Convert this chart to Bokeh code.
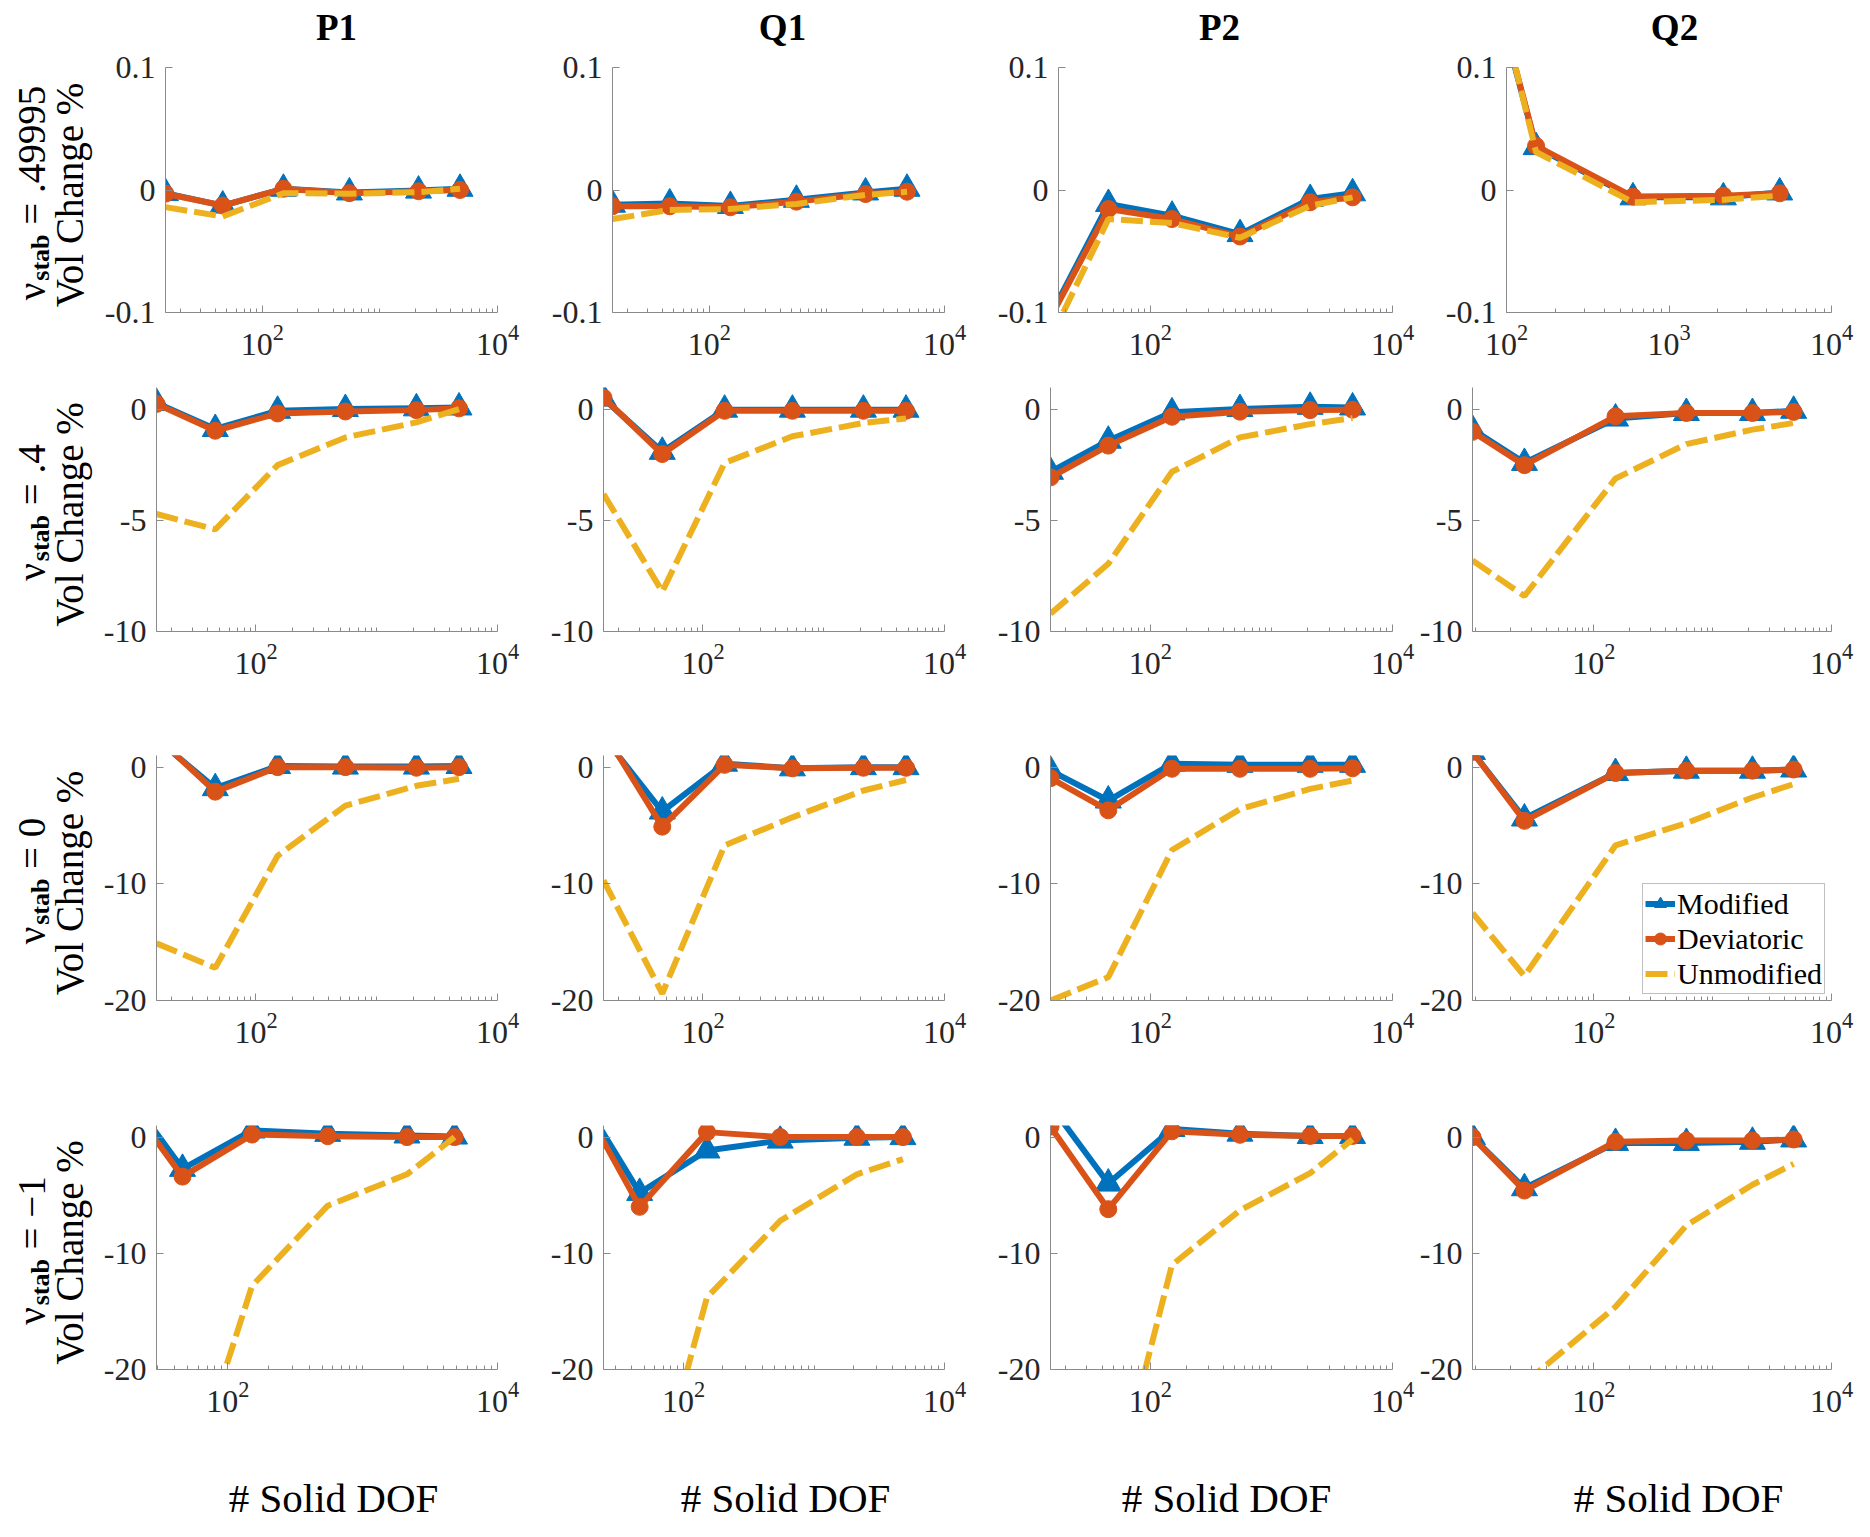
import math
import numpy as np
from bokeh.plotting import figure
from bokeh.layouts import column, row
from bokeh.models import Range1d, FixedTicker, Legend, LegendItem, CustomJSTickFormatter
from bokeh.embed import file_html
from bokeh.resources import INLINE
from bokeh.core.properties import value

NAN = float("nan")

# ---------------- data ----------------
ELEMENTS = ["P1", "Q1", "P2", "Q2"]
NU_VALUES = [".49995", ".4", "0", "\u22121"]
X_LABEL = "# Solid DOF"
Y_LABEL = "Vol Change %"
SERIES = ["Modified", "Deviatoric", "Unmodified"]

DOF_P1 = [15, 46, 151, 550, 2130, 4800]
DOF_Q1 = [15, 46, 151, 550, 2130, 4800]
DOF_P2 = [15, 45, 151, 550, 2090, 4680]
DOF_Q2 = [9.5, 26, 152, 600, 2160, 4800]
DOF = [DOF_P1, DOF_Q1, DOF_P2, DOF_Q2]

X_MIN = [[15, 15, 17.4, 100], [15, 15, 15, 9.5], [15, 15, 15, 9.5], [29.5, 24.3, 15, 9.5]]
X_MAX = 1e4
X_TICKS = [100, 10000]
X_TICKS_Q2_TOP = [100, 1000, 10000]
Y_LIMITS = [(-0.1, 0.1), (-10, 1), (-20, 1), (-20, 1)]
Y_TICKS = [[-0.1, 0, 0.1], [-10, -5, 0], [-20, -10, 0], [-20, -10, 0]]

# nu_stab = .49995  (columns: P1, Q1, P2, Q2)
MODIFIED_NU_49995 = [
    [-0.0025, -0.0127, 0.001, -0.002, -0.0005, 0.001],
    [-0.012, -0.011, -0.013, -0.008, -0.002, 0.001],
    [-0.102, -0.0114, -0.021, -0.036, -0.0073, -0.0027],
    [NAN, 0.42, 0.035, -0.006, -0.006, -0.002],
]
DEVIATORIC_NU_49995 = [
    [-0.003, -0.0127, 0.001, -0.0026, -0.001, 0.0],
    [-0.0133, -0.0133, -0.0141, -0.0095, -0.0033, -0.0014],
    [-0.104, -0.0155, -0.0237, -0.038, -0.010, -0.006],
    [NAN, 0.424, 0.036, -0.0054, -0.0046, -0.0027],
]
UNMODIFIED_NU_49995 = [
    [-0.014, -0.0216, -0.0026, -0.003, -0.0018, 0.001],
    [-0.0237, -0.0163, -0.0155, -0.0114, -0.004, -0.0014],
    [-0.121, -0.0237, -0.027, -0.039, -0.0128, -0.006],
    [NAN, 0.449, 0.031, -0.010, -0.008, -0.0046],
]

# nu_stab = .4
MODIFIED_NU_4 = [
    [0.3, -0.87, -0.05, 0.03, 0.06, 0.1],
    [0.5, -1.9, 0.0, 0.0, 0.0, 0.0],
    [-2.8, -1.4, -0.12, 0.03, 0.13, 0.1],
    [-0.9, -2.4, -0.4, -0.15, -0.15, -0.05],
]
DEVIATORIC_NU_4 = [
    [0.26, -0.95, -0.17, -0.08, -0.02, 0.06],
    [0.54, -2.0, -0.05, -0.05, -0.05, -0.05],
    [-3.05, -1.62, -0.32, -0.09, -0.02, 0.0],
    [-1.0, -2.5, -0.3, -0.15, -0.15, -0.1],
]
UNMODIFIED_NU_4 = [
    [-4.7, -5.4, -2.5, -1.25, -0.57, 0.03],
    [-3.8, -8.2, -2.4, -1.2, -0.6, -0.4],
    [-9.2, -6.95, -2.8, -1.25, -0.65, -0.38],
    [-6.8, -8.4, -3.1, -1.55, -0.9, -0.6],
]

# nu_stab = 0
MODIFIED_NU_0 = [
    [2.42, -1.8, 0.1, 0.05, 0.05, 0.1],
    [2.6, -3.8, 0.3, -0.1, 0.0, 0.0],
    [-0.3, -2.86, 0.3, 0.2, 0.2, 0.2],
    [1.3, -4.4, -0.5, -0.3, -0.3, -0.2],
]
DEVIATORIC_NU_0 = [
    [2.6, -2.1, 0.0, 0.0, -0.05, 0.0],
    [3.07, -5.1, 0.2, -0.1, -0.05, -0.05],
    [-0.94, -3.7, -0.14, -0.14, -0.14, -0.1],
    [1.3, -4.6, -0.5, -0.3, -0.3, -0.2],
]
UNMODIFIED_NU_0 = [
    [-15.1, -17.2, -7.6, -3.3, -1.6, -1.0],
    [-9.7, -19.4, -6.7, -4.3, -2.0, -1.1],
    [-20.0, -18.0, -7.1, -3.6, -1.86, -1.14],
    [-12.5, -17.9, -6.7, -4.8, -2.6, -1.45],
]

# nu_stab = -1
MODIFIED_NU_M1 = [
    [4.98, -2.73, 0.57, 0.28, 0.14, 0.05],
    [4.18, -4.8, -1.15, -0.3, -0.05, 0.0],
    [2.75, -4.0, 0.7, 0.3, 0.1, 0.1],
    [0.0, -4.4, -0.5, -0.5, -0.4, -0.2],
]
DEVIATORIC_NU_M1 = [
    [4.3, -3.4, 0.22, 0.08, 0.0, 0.0],
    [3.91, -6.0, 0.43, 0.0, 0.0, 0.0],
    [0.9, -6.2, 0.5, 0.2, 0.1, 0.1],
    [0.0, -4.6, -0.4, -0.3, -0.3, -0.2],
]
UNMODIFIED_NU_M1 = [
    [NAN, -31.4, -12.8, -5.9, -3.2, 0.0],
    [NAN, -35.0, -13.8, -7.2, -3.2, -1.9],
    [NAN, -32.4, -11.0, -6.3, -3.1, -0.2],
    [NAN, -21.2, -14.6, -7.6, -4.1, -2.3],
]

MODIFIED = [MODIFIED_NU_49995, MODIFIED_NU_4, MODIFIED_NU_0, MODIFIED_NU_M1]
DEVIATORIC = [DEVIATORIC_NU_49995, DEVIATORIC_NU_4, DEVIATORIC_NU_0, DEVIATORIC_NU_M1]
UNMODIFIED = [UNMODIFIED_NU_49995, UNMODIFIED_NU_4, UNMODIFIED_NU_0, UNMODIFIED_NU_M1]

# ---------------- style / layout ----------------
FONT = "Liberation Serif"
C_MOD, C_DEV, C_UNM = "#0072BD", "#D95319", "#EDB120"
AXIS_COLOR = "#8a8a8a"
TICK_LABEL_COLOR = "#262626"

TOTAL_W = 1854
LABEL_W = 100
COL_BOUNDS = [(100, 540), (540, 990), (990, 1416), (1416, 1854)]
FRAME_RIGHT = [497, 944, 1392, 1831]
FRAME_LEFT_TOP = [165, 612, 1058, 1506]
FRAME_LEFT = [156, 603, 1050, 1470]
HEADER_BOUNDS = (0, 48)
ROW_BOUNDS = [(48, 372), (372, 700), (700, 1065), (1065, 1420)]
FOOTER_BOUNDS = (1420, 1521)
FRAME_V = [(67, 312), (387, 631), (755, 1000), (1125, 1369)]
TITLE_X = [336, 782, 1219, 1674]
TITLE_Y = 27
XLABEL_X = [333, 785, 1226, 1678]
XLABEL_Y = 1497

REG_W = {' ': 0.25, '.': 0.25, '=': 0.564, '\u2212': 0.564, '-': 0.333}


def text_len(s, fs):
    return sum(REG_W.get(ch, 0.5) for ch in s) * fs


def blank_fig(w, h):
    p = figure(width=w, height=h, x_range=Range1d(0, w), y_range=Range1d(0, h),
               min_border=0, output_backend="svg", toolbar_location=None,
               title=None, x_axis_location=None, y_axis_location=None)
    p.outline_line_color = None
    p.grid.visible = False
    return p


def make_panel(r, c):
    x0, x1 = COL_BOUNDS[c]
    fl = FRAME_LEFT_TOP[c] if r == 0 else FRAME_LEFT[c]
    fr = FRAME_RIGHT[c]
    t0, t1 = ROW_BOUNDS[r]
    ft, fb = FRAME_V[r]
    ylo, yhi = Y_LIMITS[r]
    p = figure(width=x1 - x0, height=t1 - t0, x_axis_type="log",
               x_range=Range1d(X_MIN[r][c], X_MAX), y_range=Range1d(ylo, yhi),
               min_border_left=fl - x0, min_border_right=x1 - fr,
               min_border_top=ft - t0, min_border_bottom=t1 - fb,
               output_backend="svg", toolbar_location=None, title=None)
    p.outline_line_color = None
    p.grid.visible = False

    xt = X_TICKS_Q2_TOP if (r == 0 and c == 3) else X_TICKS
    minor = [k * 10 ** e for e in range(1, 4) for k in range(1, 10) if k * 10 ** e not in xt]
    p.xaxis.ticker = FixedTicker(ticks=xt, minor_ticks=minor)
    p.yaxis.ticker = FixedTicker(ticks=Y_TICKS[r], minor_ticks=[])
    p.yaxis.formatter = CustomJSTickFormatter(code="return String(tick);")
    for ax in (p.xaxis[0], p.yaxis[0]):
        ax.axis_line_color = AXIS_COLOR
        ax.axis_line_width = 1
        ax.major_tick_line_color = AXIS_COLOR
        ax.minor_tick_line_color = AXIS_COLOR
        ax.major_tick_in = 7
        ax.major_tick_out = 0
        ax.minor_tick_in = 4
        ax.minor_tick_out = 0
        ax.major_label_text_font = FONT
        ax.major_label_text_font_size = "32px"
        ax.major_label_text_color = TICK_LABEL_COLOR
    p.xaxis.major_label_standoff = 12
    p.yaxis.major_label_standoff = 10

    xs = np.array(DOF[c], dtype=float)
    mod = np.array(MODIFIED[r][c], dtype=float)
    dev = np.array(DEVIATORIC[r][c], dtype=float)
    unm = np.array(UNMODIFIED[r][c], dtype=float)

    l1 = p.line(xs, mod, line_color=C_MOD, line_width=6, line_join="round")
    s1 = p.scatter(xs, mod, marker="triangle", size=26, fill_color=C_MOD, line_color=C_MOD)
    l2 = p.line(xs, dev, line_color=C_DEV, line_width=6, line_join="round")
    s2 = p.scatter(xs, dev, marker="circle", size=17, fill_color=C_DEV, line_color=C_DEV)
    l3 = p.line(xs, unm, line_color=C_UNM, line_width=6, line_dash="22 7")

    if r == 2 and c == 3:
        legend = Legend(items=[
            LegendItem(label=SERIES[0], renderers=[l1, s1]),
            LegendItem(label=SERIES[1], renderers=[l2, s2]),
            LegendItem(label=SERIES[2], renderers=[l3]),
        ], location="bottom_right")
        legend.label_text_font = FONT
        legend.label_text_font_size = "30px"
        legend.label_text_color = "black"
        legend.border_line_color = "#7f7f7f"
        legend.border_line_width = 1
        legend.background_fill_color = "white"
        legend.background_fill_alpha = 1.0
        legend.padding = 2
        legend.spacing = 0
        legend.margin = 6
        legend.glyph_width = 30
        legend.glyph_height = 35
        legend.label_height = 35
        legend.label_standoff = 2
        p.add_layout(legend)
    return p


def make_row_label(r):
    # its frame is aligned by the row with the panels' frames, so use the same borders
    t0, t1 = ROW_BOUNDS[r]
    ft, fb = FRAME_V[r]
    p = figure(width=LABEL_W, height=t1 - t0, x_range=Range1d(0, LABEL_W),
               y_range=Range1d(t1 - fb, t1 - ft),
               min_border_left=0, min_border_right=0,
               min_border_top=ft - t0, min_border_bottom=t1 - fb,
               output_backend="svg", toolbar_location=None, title=None,
               x_axis_location=None, y_axis_location=None)
    p.outline_line_color = None
    p.grid.visible = False
    fc = (ft + fb) / 2
    main_fs, sub_fs = 39, 26
    rest = "= " + NU_VALUES[r]
    l_nu = 0.5 * main_fs
    l_stab = 1.778 * sub_fs
    gap = 0.25 * main_fs
    l_rest = text_len(rest, main_fs)
    total = l_nu + l_stab + gap + l_rest
    y1c = fc + 3            # reference y of centre of line 1
    y0 = t1 - (y1c + total / 2)  # local coords; text runs upward
    common = dict(angle=math.pi / 2, text_align="left", text_baseline="middle",
                  text_font=value(FONT), text_color="black")
    p.text(x=[31], y=[y0], text=["\u03bd"], text_font_size=value(f"{main_fs}px"), **common)
    p.text(x=[40], y=[y0 + l_nu], text=["stab"], text_font_size=value(f"{sub_fs}px"),
           text_font_style="bold", **common)
    p.text(x=[31], y=[y0 + l_nu + l_stab + gap], text=[rest],
           text_font_size=value(f"{main_fs}px"), **common)
    p.text(x=[69], y=[t1 - (fc + 5)], text=[Y_LABEL], angle=math.pi / 2, text_align="center",
           text_baseline="middle", text_font=value(FONT), text_font_size=value(f"{main_fs}px"),
           text_color="black")
    return p


# header with element titles
h0, h1 = HEADER_BOUNDS
header = blank_fig(TOTAL_W, h1 - h0)
header.text(x=TITLE_X, y=[h1 - TITLE_Y] * 4, text=ELEMENTS,
            text_align="center", text_baseline="middle", text_font=value(FONT),
            text_font_size=value("37px"), text_font_style="bold", text_color="black")

rows = [header]
for r in range(4):
    figs = [make_row_label(r)] + [make_panel(r, c) for c in range(4)]
    rows.append(row(*figs, spacing=0))

f0, f1 = FOOTER_BOUNDS
footer = blank_fig(TOTAL_W, f1 - f0)
footer.text(x=XLABEL_X, y=[f1 - XLABEL_Y] * 4, text=[X_LABEL] * 4,
            text_align="center", text_baseline="middle", text_font=value(FONT),
            text_font_size=value("41px"), text_color="black")
rows.append(footer)

layout = column(*rows, spacing=0)
open("out.html", "w").write(file_html(layout, INLINE))
